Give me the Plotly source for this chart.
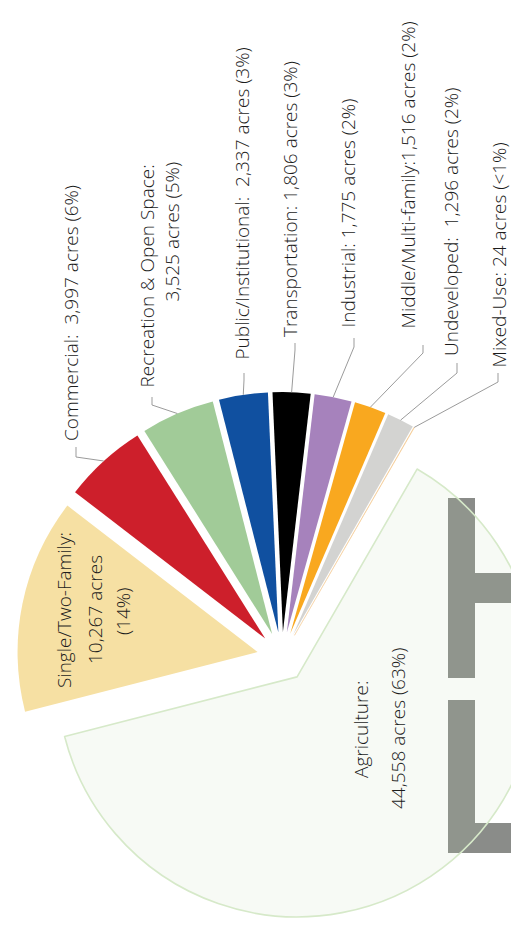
import math
import plotly.graph_objects as go

# ---- data -------------------------------------------------------------
categories = ["Agriculture", "Single/Two-Family", "Commercial",
              "Recreation & Open Space", "Public/Institutional",
              "Transportation", "Industrial", "Middle/Multi-family",
              "Undeveloped", "Mixed-Use"]
acres = [44558, 10267, 3997, 3525, 2337, 1806, 1775, 1516, 1296, 24]
shares = ["63%", "14%", "6%", "5%", "3%", "3%", "2%", "2%", "2%", "<1%"]
# separator printed between "Name:" and the acreage on one-line labels
separators = [None, None, "\u00a0 ", None, "\u00a0 ", " ", " ", "", "\u00a0 ", " "]

colors = ["rgba(190,215,170,0.12)", "#f6e0a3", "#cd1f2b", "#a1cb98",
          "#1050a0", "#000000", "#a682bc", "#f9a81f", "#d3d3d1", "#f2c489"]
line_colors = ["#d6e9c9", "#ffffff", "#ffffff", "#ffffff", "#ffffff",
               "#ffffff", "#ffffff", "#ffffff", "#ffffff", "#f2c489"]
line_widths = [1.6, 0, 0, 0, 0, 0, 0, 0, 0, 0.4]

# ---- geometry of the page --------------------------------------------
W, H = 564, 932           # figure size in px
CX, CY = 282, 657         # pie centre (px from top-left)
R = 240                   # pie radius (px)
PULL = 0.104              # every slice pulled out by the same fraction
ROTATION = 30
FONT = dict(family="Open Sans", size=19, color="#1c1c1c", weight=350)


def px(x):
    return x / W


def py(y):
    return 1 - y / H


box = 2 * R * (1 + PULL)
domain_y = [py(CY + box / 2), py(CY - box / 2)]

fig = go.Figure()
fig.add_trace(go.Pie(
    labels=categories,
    values=acres,
    sort=False,
    direction="clockwise",
    rotation=ROTATION,
    pull=[PULL] * len(acres),
    marker=dict(colors=colors, line=dict(color=line_colors, width=line_widths)),
    textinfo="none",
    hoverinfo="label+value",
    domain=dict(x=[0, 1], y=domain_y),
    showlegend=False,
))

# mid-angle of each slice (degrees clockwise from 12 o'clock)
total = sum(acres)
mid_angles = []
cum = 0
for v in acres:
    mid_angles.append(ROTATION + 360 * (cum + v / 2) / total)
    cum += v

# ---- label text ---------------------------------------------------------
def label_lines(i):
    name, a, s = categories[i], f"{acres[i]:,}", shares[i]
    if i == 0:
        return [f"{name}:", f"{a} acres ({s})"]
    if i == 1:
        return [f"{name}:", f"{a} acres", f"({s})"]
    if i == 3:
        return [f"{name}:", f"{a} acres ({s})"]
    return [f"{name}:{separators[i]}{a} acres ({s})"]


# placement of each text line: (x centre, y, vertical anchor) in px
placements = {
    0: [(361, 730, "middle"), (398, 729, "middle")],
    1: [(64, 610, "middle"), (95, 610, "middle"), (123, 612, "middle")],
    2: [(71, 443, "bottom")],
    3: [(146, 390, "bottom"), (171.5, 160, "top")],
    4: [(241.5, 362, "bottom")],
    5: [(290, 339, "bottom")],
    6: [(348, 330, "bottom")],
    7: [(407, 331, "bottom")],
    8: [(451, 358, "bottom")],
    9: [(499, 370, "bottom")],
}

for i, spots in placements.items():
    for text, (x, y, ya) in zip(label_lines(i), spots):
        fig.add_annotation(
            x=px(x), y=py(y), xref="paper", yref="paper",
            text=text, showarrow=False, textangle=-90,
            xanchor="center", yanchor=ya, font=FONT,
        )

# leader lines: short tick below the label, then a run to the slice rim
leaders = {
    2: (76, 447, 457),
    3: (152, 397, 405),
    4: (244, 373, 380),
    5: (295, 343, 350),
    6: (354, 338, 347),
    7: (423, 345, 353),
    8: (457, 363, 373),
    9: (498, 373, 382),
}
shapes = []
for i, (lx, y0, y1) in leaders.items():
    a = math.radians(mid_angles[i])
    ex = CX + R * (1 + PULL) * math.sin(a)
    ey = CY - R * (1 + PULL) * math.cos(a)
    path = (f"M {px(lx)} {py(y0)} L {px(lx)} {py(y1)} "
            f"L {px(ex)} {py(ey)}")
    shapes.append(dict(type="path", path=path, xref="paper", yref="paper",
                       line=dict(color="#9b9b9b", width=1)))

# large grey lettering behind the chart
grey = "#8a8c89"
for x0, y0, x1, y1 in [(448, 498, 475, 678), (475, 573, 564, 603),
                       (448, 700, 475, 853), (475, 823, 564, 853)]:
    shapes.append(dict(type="rect", xref="paper", yref="paper",
                       x0=px(x0), x1=px(x1), y0=py(y1), y1=py(y0),
                       fillcolor=grey, line=dict(width=0), layer="below"))

fig.update_layout(
    width=W, height=H,
    margin=dict(l=0, r=0, t=0, b=0),
    paper_bgcolor="white", plot_bgcolor="white",
    shapes=shapes,
    showlegend=False,
)

fig.write_html("out.html")
